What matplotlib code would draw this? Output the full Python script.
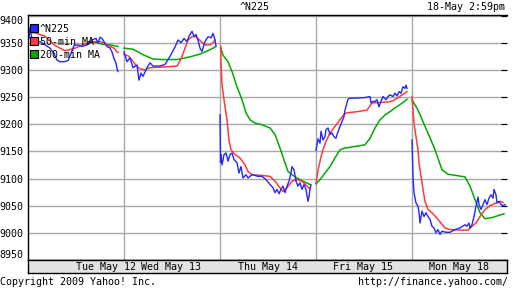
import numpy as np
import matplotlib
matplotlib.use('Agg')
import matplotlib.pyplot as plt
from matplotlib.lines import Line2D

# ^N225 intraday, 12-18 May 2009
# time axis: 96 units per trading session, 5 sessions
n225_t = [0, 1, 2, 4, 8, 12, 17, 22, 26, 29, 32, 36, 40, 43, 46, 50, 54, 59, 62, 64, 68, 70, 72, 74, 76, 79, 82, 84, 86, 88, 89, 90,
          96, 99, 102, 105, 109, 111, 113, 115, 119, 122, 125, 132, 137, 142, 147, 150, 153, 156, 159, 161, 164, 166, 168, 170, 172, 174, 177, 180, 183, 185, 187, 188,
          192, 192.5, 193, 194, 196, 198, 200, 202, 204, 206, 209, 211, 213, 215, 218, 220, 224, 230, 234, 238, 242, 245, 247, 249, 251, 253, 255, 257, 259, 261, 263, 264, 266, 268, 270, 272, 274, 276, 278, 280, 281, 282, 283,
          288, 290, 292, 293, 295, 297, 298, 300, 302, 304, 306, 308, 309, 312, 314, 316, 317, 319, 320, 322, 329, 337, 342, 343, 345, 347, 349, 351, 353, 355, 358, 360, 362, 365, 367, 369, 371, 373, 375, 377, 378, 379,
          384, 385, 386, 388, 390, 391, 392, 394, 396, 398, 400, 402, 404, 406, 408, 410, 412, 414, 418, 422, 427, 432, 437, 439, 441, 442, 444, 446, 448, 450, 451, 453, 455, 457, 459, 461, 463, 465, 466, 468, 469, 471, 473, 475, 477]
n225 = [9385, 9358, 9378, 9355, 9350, 9352, 9346, 9340, 9330, 9318, 9315, 9315, 9317, 9330, 9345, 9346, 9343, 9346, 9352, 9355, 9358, 9349, 9360, 9358, 9352, 9343, 9340, 9333, 9321, 9312, 9303, 9297,
        9333, 9315, 9322, 9304, 9309, 9281, 9294, 9288, 9304, 9313, 9307, 9307, 9310, 9325, 9342, 9355, 9350, 9358, 9352, 9362, 9371, 9362, 9365, 9355, 9340, 9334, 9352, 9361, 9359, 9367, 9355, 9343,
        9217, 9130, 9144, 9125, 9144, 9147, 9132, 9144, 9147, 9135, 9129, 9110, 9122, 9101, 9107, 9101, 9107, 9104, 9104, 9098, 9089, 9083, 9074, 9080, 9072, 9080, 9086, 9074, 9086, 9095, 9110, 9122, 9116, 9095, 9086, 9092, 9080, 9089, 9080, 9058, 9067, 9080, 9089,
        9152, 9173, 9165, 9187, 9171, 9177, 9190, 9193, 9181, 9184, 9177, 9174, 9181, 9196, 9205, 9214, 9226, 9239, 9246, 9248, 9248, 9249, 9251, 9239, 9242, 9242, 9245, 9232, 9242, 9251, 9245, 9251, 9254, 9251, 9257, 9252, 9260, 9257, 9269, 9266, 9272, 9266,
        9171, 9104, 9074, 9055, 9049, 9037, 9018, 9040, 9030, 9037, 9030, 9025, 9012, 9009, 9000, 9006, 8997, 9003, 9001, 9001, 9006, 9009, 9015, 9012, 9018, 9009, 9015, 9030, 9049, 9066, 9052, 9043, 9052, 9061, 9052, 9064, 9070, 9064, 9080, 9070, 9055, 9058, 9052, 9050, 9052]

ma50_t = [0, 7, 17, 27, 37, 47, 57, 67, 72, 77, 82, 86, 89, 90,
          96, 100, 104, 108, 112, 117, 122, 132, 142, 149, 153, 157, 160, 164, 168, 172, 177, 182, 185, 187,
          192.7, 193, 194, 196, 199, 201, 203, 207, 212, 217, 220, 224, 232, 242, 247, 252, 255, 259, 264, 269, 274, 279, 282,
          288, 290, 293, 295, 298, 302, 307, 312, 316, 319, 329, 339, 344, 352, 360, 365, 371, 375, 379,
          384, 385, 386, 388, 390, 391, 393, 395, 397, 400, 404, 409, 413, 417, 422, 432, 440, 444, 448, 452, 457, 462, 467, 472, 475]
ma50 = [9370, 9368, 9362, 9345, 9335, 9340, 9348, 9352, 9352, 9349, 9343, 9340, 9333, 9332,
        9328, 9326, 9318, 9308, 9302, 9300, 9304, 9305, 9306, 9307, 9320, 9340, 9355, 9361, 9361, 9354, 9346, 9346, 9350, 9355,
        9343, 9313, 9272, 9245, 9208, 9171, 9153, 9144, 9138, 9125, 9113, 9107, 9106, 9104, 9095, 9083, 9076, 9083, 9095, 9098, 9095, 9086, 9081,
        9092, 9115, 9140, 9153, 9168, 9184, 9196, 9208, 9218, 9221, 9223, 9226, 9239, 9240, 9241, 9243, 9250, 9255, 9260,
        9251, 9226, 9202, 9177, 9153, 9129, 9104, 9080, 9058, 9043, 9037, 9027, 9018, 9009, 9006, 9005, 9005, 9012, 9018, 9030, 9043, 9050, 9054, 9058, 9056]

ma200_t = [60, 69, 75, 82, 90,
           96, 105, 115, 125, 135, 149, 162, 172, 182, 187,
           192.7, 195, 200, 204, 209, 214, 218, 222, 227, 234, 242, 247, 252, 257, 260, 264, 269, 275, 282,
           288, 292, 297, 302, 307, 312, 317, 327, 337, 342, 347, 352, 357, 362, 367, 372, 377, 379,
           384, 390, 397, 402, 407, 414, 420, 430, 437, 442, 447, 452, 457, 464, 474, 476]
ma200 = [9352, 9350, 9347, 9346, 9343,
         9340, 9338, 9328, 9320, 9319, 9319, 9324, 9329, 9337, 9342,
         9341, 9327, 9315, 9297, 9269, 9245, 9221, 9208, 9202, 9199, 9193, 9181, 9156, 9129, 9113, 9107, 9101, 9095, 9089,
         9090, 9098, 9110, 9122, 9138, 9153, 9156, 9159, 9162, 9174, 9193, 9208, 9217, 9223, 9230, 9236, 9243, 9246,
         9245, 9226, 9196, 9175, 9153, 9116, 9108, 9105, 9103, 9086, 9061, 9037, 9026, 9028, 9034, 9035]

day_labels = ['Tue May 12', 'Wed May 13', 'Thu May 14', 'Fri May 15', 'Mon May 18']
day_label_pos = [78, 143, 240, 335, 431]
day_breaks = [96, 192, 288, 384]
yticks = [8950, 9000, 9050, 9100, 9150, 9200, 9250, 9300, 9350, 9400]

session_len = 96


def split_sessions(t, v):
    # break the line between trading sessions
    xs, ys = [], []
    prev = None
    for ti, vi in zip(t, v):
        s = int(ti // session_len)
        if prev is not None and s != prev:
            xs.append(np.nan)
            ys.append(np.nan)
        xs.append(ti)
        ys.append(vi)
        prev = s
    return xs, ys


plt.rcParams['font.family'] = 'DejaVu Sans Mono'
plt.rcParams['font.size'] = 7.2

fig = plt.figure(figsize=(5.12, 2.88), dpi=100)
ax = fig.add_axes([28 / 512, 1 - 260 / 288, 479 / 512, 245 / 288])

blue, red, green = '#2626ff', '#ff3a3a', '#00aa00'
ax.plot(*split_sessions(ma200_t, ma200), color=green, lw=1.1)
ax.plot(*split_sessions(ma50_t, ma50), color=red, lw=1.1)
ax.plot(*split_sessions(n225_t, n225), color=blue, lw=1.0)

ax.set_xlim(0, 479)
ax.set_ylim(8950, 9401)
ax.set_yticks(yticks)
ax.set_xticks(day_breaks)
ax.set_xticklabels([])
ax.grid(True, color='#a8a8a8', lw=1)
ax.set_axisbelow(True)
ax.tick_params(axis='y', left=False, right=True, direction='in', length=4, color='black', pad=3)
ax.tick_params(axis='x', bottom=False, length=0)
ylabs = ax.get_yticklabels()
ylabs[0].set_va('bottom')
ylabs[-1].set_va('top')
ax.spines['right'].set_visible(False)
for s in ['left', 'top', 'bottom']:
    ax.spines[s].set_color('black')
    ax.spines[s].set_linewidth(1)

handles = [Line2D([], [], ls='none', marker='s', markersize=6, markerfacecolor=c,
                  markeredgecolor='black', markeredgewidth=0.8) for c in (blue, red, green)]
ax.legend(handles, ['^N225', '50-min MA', '200-min MA'], loc='upper left',
          bbox_to_anchor=(-0.002, 1 - 5 / 245),
          frameon=False, borderaxespad=0, borderpad=0.35, labelspacing=0.32,
          handlelength=0.7, handletextpad=0.2, fontsize=7.2)

# date band under the plot
band = fig.add_axes([28 / 512, 1 - 273 / 288, 479 / 512, 13 / 288])
band.set_facecolor('#e2e2e2')
band.set_xlim(0, 479)
band.set_ylim(0, 1)
band.set_xticks([])
band.set_yticks([])
for s in band.spines.values():
    s.set_color('black')
    s.set_linewidth(1)
for lab, pos in zip(day_labels, day_label_pos):
    band.text(pos, 0.45, lab, ha='center', va='center', fontsize=7.2)

fig.text(255 / 512, 1 - 7 / 288, '^N225', ha='center', va='center', fontsize=7.2)
fig.text(505 / 512, 1 - 7 / 288, '18-May 2:59pm', ha='right', va='center', fontsize=7.2)
fig.text(0, 1 - 282 / 288, 'Copyright 2009 Yahoo! Inc.', ha='left', va='center', fontsize=7.2)
fig.text(508 / 512, 1 - 282 / 288, 'http://finance.yahoo.com/', ha='right', va='center', fontsize=7.2)

fig.savefig('out.png', dpi=100)
